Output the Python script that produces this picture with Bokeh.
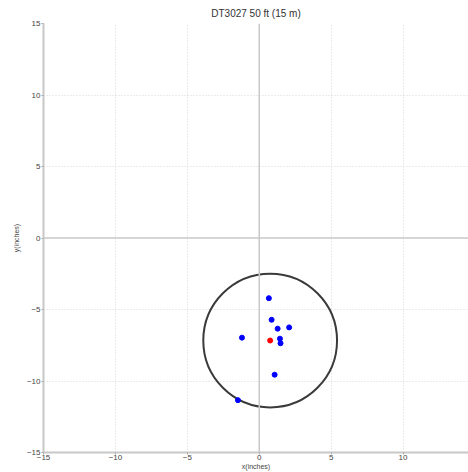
from bokeh.plotting import figure
from bokeh.models import Range1d, Span, FixedTicker
from bokeh.embed import file_html
from bokeh.resources import INLINE

# Data
shot_x = [0.67, 0.86, 1.28, 2.08, -1.20, 1.44, 1.48, 1.07, -1.48]
shot_y = [-4.21, -5.72, -6.34, -6.25, -6.97, -7.04, -7.36, -9.56, -11.34]
center_x = [0.76]
center_y = [-7.17]
circle_radius = [4.65]
ticks = [-15, -10, -5, 0, 5, 10, 15]

p = figure(width=468, height=472, output_backend="svg", toolbar_location=None,
           x_range=Range1d(-15, 14.55), y_range=Range1d(-15, 15),
           title="DT3027 50 ft (15 m)")
p.min_border_left = 43
p.min_border_right = 0
p.min_border_top = 10
p.min_border_bottom = 0
p.outline_line_color = None
p.background_fill_color = "white"

p.title.align = "center"
p.title.text_font = "Liberation Sans"
p.title.text_font_size = "10px"
p.title.text_font_style = "normal"
p.title.text_color = "#333333"

for ax in (p.xaxis[0], p.yaxis[0]):
    ax.ticker = FixedTicker(ticks=ticks)
    ax.axis_line_color = "#c8c8c8"
    ax.axis_line_width = 2
    ax.major_tick_line_color = "#aaaaaa"
    ax.major_tick_in = 0
    ax.major_tick_out = 2
    ax.minor_tick_line_color = None
    ax.major_label_text_font = "Liberation Sans"
    ax.major_label_text_font_size = "8px"
    ax.major_label_text_color = "#444444"
    ax.major_label_standoff = 0
    ax.axis_label_text_font = "Liberation Sans"
    ax.axis_label_text_font_size = "7px"
    ax.axis_label_text_font_style = "normal"
    ax.axis_label_text_color = "#444444"
    ax.axis_label_standoff = 0

p.yaxis[0].axis_label_standoff = 4
p.yaxis[0].major_label_standoff = 1
p.xaxis.axis_label = "x(inches)"
p.yaxis.axis_label = "y(inches)"

for g in (p.xgrid[0], p.ygrid[0]):
    g.ticker = FixedTicker(ticks=[-10, -5, 5, 10, 15])
    g.grid_line_color = "#d8d8d8"
    g.grid_line_dash = "1 2"
    g.grid_line_width = 1

p.add_layout(Span(location=0, dimension="height", line_color="#c8c8c8", line_width=1.5))
p.add_layout(Span(location=0, dimension="width", line_color="#c8c8c8", line_width=1.5))

p.circle(x=center_x, y=center_y, radius=circle_radius, fill_color=None,
         line_color="#3a3a3a", line_width=2)
p.scatter(x=shot_x, y=shot_y, size=5, color="#0000ff", line_color="#0000ff")
p.scatter(x=center_x, y=center_y, size=5, color="#ff0000", line_color="#ff0000")

open("out.html", "w").write(file_html(p, INLINE))
